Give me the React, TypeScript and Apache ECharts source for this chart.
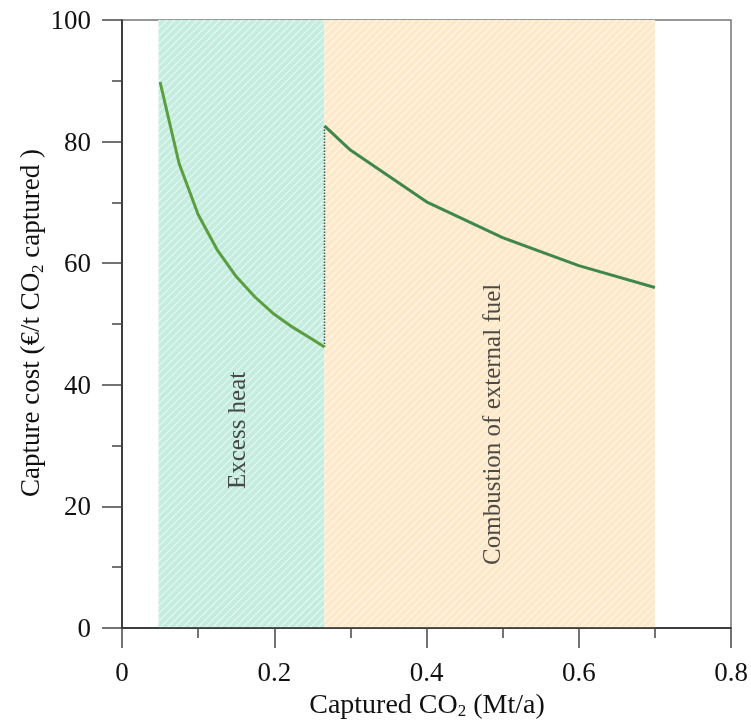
import React, { useEffect, useRef } from 'react';
import * as echarts from 'echarts';

const heatX = [0.05, 0.075, 0.1, 0.125, 0.15, 0.175, 0.2, 0.225, 0.25, 0.266];
const heatCost = [89.8, 76.4, 68, 62.2, 57.8, 54.4, 51.6, 49.4, 47.5, 46.2];
const fuelX = [0.266, 0.3, 0.4, 0.5, 0.6, 0.7];
const fuelCost = [82.6, 78.6, 70.1, 64.2, 59.6, 56.0];
const regionStart = [0.048, 0.266];
const regionEnd = [0.266, 0.7];
const regionNames = ['Excess heat', 'Combustion of external fuel'];
const regionFill = ['#c4ecdf', '#fde9c9'];
const labelX = [0.15, 0.485];
const labelY = [32.5, 33.5];

const FONT = "'Liberation Serif', 'Times New Roman', serif";

export default function App() {
  const ref = useRef<HTMLDivElement>(null);
  useEffect(() => {
    if (!ref.current) return;
    const chart = echarts.init(ref.current, undefined, { renderer: 'svg' });
    const axisColor = '#222';
    const option: any = {
      animation: false,
      grid: { left: 122, right: 20, top: 20, bottom: 96, show: true, borderColor: '#777', borderWidth: 1.5, backgroundColor: 'transparent' },
      xAxis: {
        type: 'value', min: 0, max: 0.8, interval: 0.2,
        axisLine: { lineStyle: { color: axisColor, width: 1.5 } },
        axisTick: { show: true, length: 20, lineStyle: { color: '#444', width: 1.5 } },
        minorTick: { show: true, splitNumber: 2, length: 10, lineStyle: { color: '#444', width: 1.5 } },
        splitLine: { show: false },
        axisLabel: { fontSize: 27, fontFamily: FONT, color: '#111', margin: 30, formatter: (v: number) => String(+v.toFixed(1)) },
      },
      yAxis: {
        type: 'value', min: 0, max: 100, interval: 20,
        axisLine: { show: true, lineStyle: { color: axisColor, width: 1.5 } },
        axisTick: { show: true, length: 20, lineStyle: { color: '#444', width: 1.5 } },
        minorTick: { show: true, splitNumber: 2, length: 10, lineStyle: { color: '#444', width: 1.5 } },
        splitLine: { show: false },
        axisLabel: { fontSize: 27, fontFamily: FONT, color: '#111', margin: 31 },
      },
      graphic: [
        {
          type: 'text', x: 427, y: 703,
          style: {
            text: '{a|Captured CO}{s|2}{a| (Mt/a)}',
            align: 'center', verticalAlign: 'middle',
            rich: {
              a: { fontSize: 28, fontFamily: FONT, fill: '#111' },
              s: { fontSize: 17, fontFamily: FONT, fill: '#111', padding: [15, 0, 0, 0] },
            },
          },
        },
        {
          type: 'text', x: 30, y: 323, rotation: Math.PI / 2,
          style: {
            text: '{a|Capture cost (€/t CO}{s|2}{a| captured )}',
            align: 'center', verticalAlign: 'middle',
            rich: {
              a: { fontSize: 27, fontFamily: FONT, fill: '#111' },
              s: { fontSize: 17, fontFamily: FONT, fill: '#111', padding: [14, 0, 0, 0] },
            },
          },
        },
      ],
      series: [
        {
          type: 'custom',
          silent: true,
          z: 0,
          data: regionStart.map((s, i) => [s, regionEnd[i], i]),
          encode: { x: [0, 1] },
          renderItem: (params: any, api: any) => {
            const x0 = api.value(0), x1 = api.value(1), idx = api.value(2);
            const p0 = api.coord([x0, 100]);
            const p1 = api.coord([x1, 0]);
            const left = p0[0], top = p0[1], right = p1[0], bottom = p1[1];
            const children: any[] = [
              { type: 'rect', shape: { x: left, y: top, width: right - left, height: bottom - top }, style: { fill: regionFill[idx] } },
            ];
            const step = 7.5;
            for (let c = Math.ceil((left + top) / step) * step; c <= right + bottom; c += step) {
              const xa = Math.max(left, c - bottom);
              const xb = Math.min(right, c - top);
              if (xb > xa) {
                children.push({ type: 'line', shape: { x1: xa, y1: c - xa, x2: xb, y2: c - xb }, style: { stroke: 'rgba(255,255,255,0.6)', lineWidth: 1.1 } });
              }
            }
            return { type: 'group', children };
          },
        },
        {
          type: 'line', symbol: 'none', z: 3,
          data: heatX.map((x, i) => [x, heatCost[i]]),
          lineStyle: { color: '#5a9e3f', width: 3 },
        },
        {
          type: 'line', symbol: 'none', z: 3,
          data: fuelX.map((x, i) => [x, fuelCost[i]]),
          lineStyle: { color: '#3f874a', width: 3 },
        },
        {
          type: 'line', symbol: 'none', z: 2,
          data: [[heatX[heatX.length - 1], heatCost[heatCost.length - 1]], [fuelX[0], fuelCost[0]]],
          lineStyle: { color: '#2e5a5e', width: 1.5, type: 'dotted' },
        },
        {
          type: 'scatter', symbolSize: 0, z: 4, silent: true,
          data: labelX.map((x, i) => ({ value: [x, labelY[i]], name: regionNames[i] })),
          label: {
            show: true, position: 'inside', rotate: 90, formatter: (p: any) => p.name,
            fontSize: 25, fontFamily: FONT, color: '#222',
          },
        },
      ],
    };
    chart.setOption(option);
    return () => chart.dispose();
  }, []);
  return <div ref={ref} style={{ position: 'fixed', left: 0, top: 0, width: 751, height: 724 }} />;
}
